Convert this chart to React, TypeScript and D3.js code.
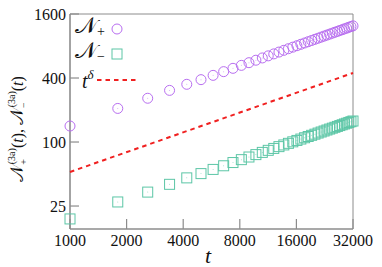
import React from "react";
import * as d3 from "d3";

const tValues = [1000, 1795, 2590, 3385, 4179, 4974, 5769, 6564, 7359, 8154, 8949, 9744, 10538, 11333, 12128, 12923, 13718, 14513, 15308, 16103, 16897, 17692, 18487, 19282, 20077, 20872, 21667, 22462, 23256, 24051, 24846, 25641, 26436, 27231, 28026, 28821, 29615, 30410, 31205, 32000];
const nPlus = [141.4, 207, 258, 306, 349, 386.0, 423.6, 459.2, 493.3, 526.0, 557.5, 588.1, 617.6, 646.3, 674.4, 701.7, 728.4, 754.6, 780.2, 805.3, 830.0, 854.2, 878.0, 901.5, 924.6, 947.2, 969.8, 991.8, 1013.7, 1035.2, 1056.6, 1077.6, 1098.4, 1118.9, 1139.2, 1159.3, 1179.3, 1199.1, 1218.5, 1237.8];
const nMinus = [18.9, 27.3, 33.8, 40.0, 46.0, 50.45, 55.24, 59.78, 64.11, 68.27, 72.27, 76.13, 79.88, 83.51, 87.04, 90.5, 93.86, 97.16, 100.4, 103.5, 106.6, 109.7, 112.7, 115.6, 118.5, 121.4, 124.2, 126.9, 129.7, 132.4, 135.0, 137.6, 140.2, 142.8, 145.3, 147.9, 150.3, 152.8, 155.2, 157.6];
const powerT = [1000, 32000];
const powerY = [52.3, 446];
const xTicks = [1000, 2000, 4000, 8000, 16000, 32000];
const yTicks = [25, 100, 400, 1600];
const xDomain = [1000, 32000];
const yDomain = [15.2, 1600];

const W = 382, H = 267;
const L = 70, R = 353, T = 14, B = 229;
const PURPLE = "#b86ef0";
const TEAL = "#5cc6a6";
const RED = "#f02020";
const GREY = "#8c8c8c";
const FONT = "Liberation Serif, DejaVu Serif, serif";

export default function App() {
  const x = d3.scaleLog().domain(xDomain).range([L, R]);
  const y = d3.scaleLog().domain(yDomain).range([B, T]);
  const line = d3.line<number>().x((d, i) => x(powerT[i])).y((d) => y(d));
  const s = 10;
  const ts = { fontFamily: FONT };
  return (
    <svg width={W} height={H} style={{ position: "absolute", left: 0, top: 0, fontFamily: FONT }}>
      <rect x={0} y={0} width={W} height={H} fill="#fff" />
      <defs>
        <clipPath id="pa"><rect x={L - 8} y={T - 8} width={R - L + 16} height={B - T + 16} /></clipPath>
      </defs>
      {xTicks.map((t) => (
        <g key={"x" + t}>
          <line x1={x(t)} x2={x(t)} y1={B} y2={B - 10} stroke={GREY} strokeWidth={1.2} />
          <text x={x(t)} y={246} textAnchor="middle" fontSize={16} fill="#111" style={ts}>{t}</text>
        </g>
      ))}
      {yTicks.map((v) => (
        <g key={"y" + v}>
          <line x1={L} x2={L + 9} y1={y(v)} y2={y(v)} stroke={GREY} strokeWidth={1.2} />
          <text x={66} y={y(v) + 5.5} textAnchor="end" fontSize={16} fill="#111" style={ts}>{v}</text>
        </g>
      ))}
      <line x1={L} x2={R} y1={T} y2={T} stroke={GREY} strokeWidth={1} />
      <line x1={R} x2={R} y1={T} y2={B} stroke={GREY} strokeWidth={1} />
      <line x1={L} x2={L} y1={T} y2={B} stroke={GREY} strokeWidth={1.6} />
      <line x1={L} x2={R} y1={B} y2={B} stroke={GREY} strokeWidth={1.6} />
      <g clipPath="url(#pa)">
        <path d={line(powerY) || ""} fill="none" stroke={RED} strokeWidth={2} strokeDasharray="4.5,4" />
        {tValues.map((t, i) => (
          <g key={"p" + i}>
            <circle cx={x(t)} cy={y(nPlus[i])} r={5} fill="none" stroke={PURPLE} strokeWidth={1} />
            <circle cx={x(t)} cy={y(nPlus[i])} r={0.5} fill={PURPLE} opacity={0.6} />
          </g>
        ))}
        {tValues.map((t, i) => (
          <g key={"m" + i}>
            <rect x={x(t) - s / 2} y={y(nMinus[i]) - s / 2} width={s} height={s} fill="none" stroke={TEAL} strokeWidth={1} />
            <circle cx={x(t)} cy={y(nMinus[i])} r={0.5} fill={TEAL} opacity={0.6} />
          </g>
        ))}
      </g>
      <text x={75} y={33} fontSize={23} fill="#111" style={ts}>𝒩<tspan fontSize={14} dy={3}>+</tspan></text>
      <circle cx={117} cy={29} r={5} fill="none" stroke={PURPLE} strokeWidth={1} />
      <text x={75} y={58} fontSize={23} fill="#111" style={ts}>𝒩<tspan fontSize={14} dy={3}>−</tspan></text>
      <rect x={112} y={49} width={10} height={10} fill="none" stroke={TEAL} strokeWidth={1} />
      <text x={82} y={88} fontSize={20} fontStyle="italic" fill="#111" style={ts}>t<tspan fontSize={13} dy={-9}>δ</tspan></text>
      <line x1={97} x2={138} y1={80} y2={80} stroke={RED} strokeWidth={2} strokeDasharray="4.5,4" />
      <text x={208} y={263} textAnchor="middle" fontSize={22} fontStyle="italic" fill="#111" style={ts}>t</text>
      <text transform="translate(23,129) rotate(-90)" textAnchor="middle" fontSize={18} fill="#111" style={ts}>
        𝒩<tspan fontSize={10} dy={4}>+</tspan><tspan fontSize={10} dx={-5} dy={-12}>(3a)</tspan><tspan fontSize={16} dy={8}>(</tspan><tspan fontSize={16} fontStyle="italic">t</tspan><tspan fontSize={16}>),  </tspan><tspan>𝒩</tspan><tspan fontSize={10} dy={4}>−</tspan><tspan fontSize={10} dx={-5} dy={-12}>(3a)</tspan><tspan fontSize={16} dy={8}>(</tspan><tspan fontSize={16} fontStyle="italic">t</tspan><tspan fontSize={16}>)</tspan>
      </text>
    </svg>
  );
}
